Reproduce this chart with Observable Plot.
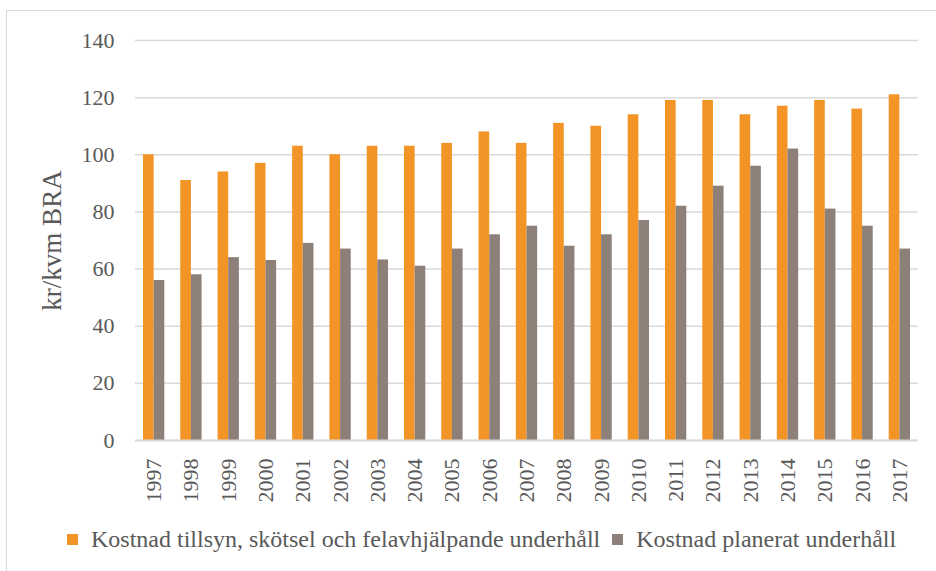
<!DOCTYPE html>
<html>
<head>
<meta charset="utf-8">
<script src="https://cdn.jsdelivr.net/npm/d3@7"></script>
<script src="https://cdn.jsdelivr.net/npm/@observablehq/plot@0.6"></script>
<style>
  html, body { margin: 0; padding: 0; background: #fff; overflow: hidden; }
  #wrap { position: relative; width: 936px; height: 571px; }
  #chart { position: absolute; left: 0; top: 0; }
  #frame { position: absolute; left: 6px; top: 10px; width: 1000px; height: 700px;
           border: 1.5px solid #d9d9d9; box-sizing: border-box; pointer-events: none; }
  #legend { position: absolute; left: 67px; top: 526px; display: flex; align-items: center;
            font-family: "Liberation Serif", "Times New Roman", serif; font-size: 24px; color: #595959;
            white-space: nowrap; }
  #legend .item { display: flex; align-items: center; margin-right: 12px; }
  #legend .sw { width: 11px; height: 11px; margin-right: 13px; display: inline-block; }
</style>
</head>
<body>
<div id="wrap">
  <div id="chart"></div>
  <div id="legend"></div>
  <div id="frame"></div>
</div>
<script>
const years = [1997, 1998, 1999, 2000, 2001, 2002, 2003, 2004, 2005, 2006, 2007,
               2008, 2009, 2010, 2011, 2012, 2013, 2014, 2015, 2016, 2017];
const tillsyn = [100, 91, 94, 97, 103, 100, 103, 103, 104, 108, 104,
                 111, 110, 114, 119, 119, 114, 117, 119, 116, 121];
const planerat = [56, 58, 64, 63, 69, 67, 63.2, 61, 67, 72, 75,
                  68, 72, 77, 82, 89, 96, 102, 81, 75, 67];
const seriesNames = ["Kostnad tillsyn, skötsel och felavhjälpande underhåll", "Kostnad planerat underhåll"];
const seriesColors = ["#f39427", "#8c8078"];
const yTicks = [0, 20, 40, 60, 80, 100, 120, 140];
const yLabel = "kr/kvm BRA";

const data = years.flatMap((yr, i) => [
  {year: String(yr), serie: seriesNames[0], value: tillsyn[i]},
  {year: String(yr), serie: seriesNames[1], value: planerat[i]}
]);

const chart = Plot.plot({
  width: 936,
  height: 520,
  marginLeft: 135,
  marginRight: 18,
  marginTop: 40,
  marginBottom: 80,
  style: {fontFamily: "'Liberation Serif', 'Times New Roman', serif", fontSize: "22px", color: "#595959", background: "transparent"},
  fx: {domain: years.map(String), padding: 0, round: false, label: null, tickRotate: -90, tickSize: 0, tickPadding: 18},
  x: {domain: seriesNames, paddingInner: 0, paddingOuter: 0.75, round: false, axis: null},
  y: {domain: [0, 140], axis: null},
  color: {domain: seriesNames, range: seriesColors},
  marks: [
    Plot.gridY(yTicks, {stroke: "#d9d9d9", strokeOpacity: 1, strokeWidth: 1.5}),
    Plot.barY(data, {fx: "year", x: "serie", y: "value", fill: "serie"}),
    Plot.ruleY([0], {stroke: "#d9d9d9", strokeWidth: 1.8}),
    Plot.axisY(yTicks, {tickSize: 0, tickPadding: 21, label: null, fill: "#595959"}),
    Plot.axisY([], {tickSize: 0, label: yLabel, labelArrow: "none", labelAnchor: "center", labelOffset: 94, fontSize: 27, fill: "#595959"})
  ]
});
document.getElementById("chart").appendChild(chart);

const legend = document.getElementById("legend");
seriesNames.forEach((name, i) => {
  const item = document.createElement("div");
  item.className = "item";
  const sw = document.createElement("span");
  sw.className = "sw";
  sw.style.background = seriesColors[i];
  const t = document.createElement("span");
  t.textContent = name;
  item.appendChild(sw);
  item.appendChild(t);
  legend.appendChild(item);
});
</script>
</body>
</html>
